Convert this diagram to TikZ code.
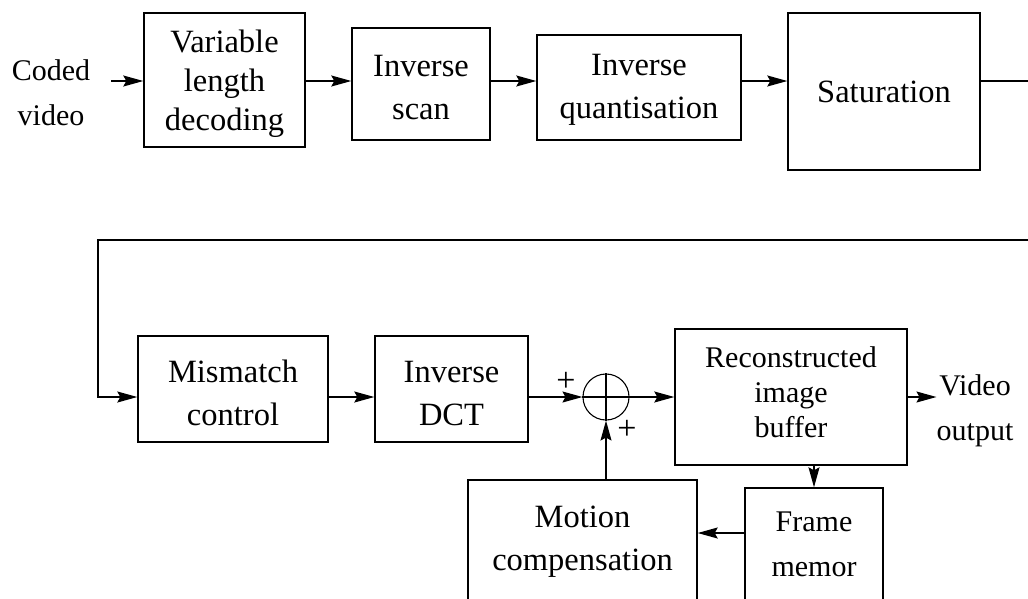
\documentclass[tikz,border=0pt]{standalone}
\usepackage{fontspec}
\setmainfont{Liberation Serif}
\usetikzlibrary{arrows.meta}
\newcommand\toprule[1]{\rule{0pt}{#1}}
\newcommand\botrule[1]{\rule[-#1]{0pt}{#1}}
\begin{document}
\begin{tikzpicture}[x=1pt,y=-1pt,
  blk/.style={draw, line width=1.4pt, inner sep=0pt, align=center},
  arr/.style={line width=1.4pt, -{Stealth[length=20pt,width=11pt,inset=3pt]}},
  ln/.style={line width=1.4pt},
  lbl/.style={inner sep=0pt, align=center},
  bigf/.style={font={\fontsize{32.5}{43}\selectfont}},
  smf/.style={font={\fontsize{30}{45}\selectfont}}]
\useasboundingbox (0,0) rectangle (1028,598);
\clip (0,0) rectangle (1028,598);
\fill[white] (0,0) rectangle (1028,598);
\coordinate (toprow) at (0,81);
\coordinate (botrow) at (0,397);
\coordinate (fmrow) at (0,533);
\coordinate (re1) at (1034,81);
\coordinate (re2) at (1034,240);
\coordinate (lc) at (98,240);

% top row
\node[lbl, smf] (cv) at (51,93) {Coded\\video};
\node[blk, minimum width=161pt, minimum height=134pt, font={\fontsize{32.5}{39}\selectfont}] (vld) at (224.5,80) {\toprule{31pt}Variable\\length\\decoding};
\node[blk, bigf, minimum width=138pt, minimum height=112pt] (iscan) at (421,84) {\toprule{29pt}Inverse\\scan};
\node[blk, bigf, minimum width=204pt, minimum height=105pt] (iq) at (639,87.5) {\toprule{26pt}Inverse\\quantisation};
\node[blk, bigf, minimum width=192pt, minimum height=157pt] (sat) at (884,91.5) {Saturation};

% bottom row
\node[blk, bigf, minimum width=190pt, minimum height=106pt] (mm) at (233,389) {\toprule{30pt}Mismatch\\control};
\node[blk, bigf, minimum width=153pt, minimum height=106pt] (idct) at (451.5,389) {\toprule{30pt}Inverse\\DCT};
\node[draw, circle, line width=1.1pt, minimum size=46pt, inner sep=0pt] (sum) at (606,397) {};
\node[blk, minimum width=232pt, minimum height=136pt, font={\fontsize{30}{35}\selectfont}] (rib) at (791,397) {Reconstructed\\image\\buffer\botrule{10pt}};
\node[lbl, smf] (vo) at (975,411) {Video\\output};
\node[blk, bigf, minimum width=229pt, minimum height=124pt] (mc) at (582.5,542) {Motion\\compensation};
\node[blk, smf, minimum width=138pt, minimum height=120pt] (fm) at (814,548) {Frame\\memor\botrule{8pt}};
\node[lbl, font={\fontsize{34}{40}\selectfont}] (p1) at (566,382) {+};
\node[lbl, font={\fontsize{34}{40}\selectfont}] (p2) at (627,430) {+};

% circle cross
\draw[line width=1.1pt] (sum.north) -- (sum.south) (sum.west) -- (sum.east);

% connectors top
\draw[arr] ([xshift=21pt]cv.east |- toprow) -- (vld.west |- toprow);
\draw[arr] (vld.east |- toprow) -- (iscan.west |- toprow);
\draw[arr] (iscan.east |- toprow) -- (iq.west |- toprow);
\draw[arr] (iq.east |- toprow) -- (sat.west |- toprow);
\draw[ln] (sat.east |- toprow) -- (re1);
\draw[arr] (re2) -- (lc) |- (mm.west |- botrow);

% connectors bottom
\draw[arr] (mm.east |- botrow) -- (idct.west |- botrow);
\draw[arr] (idct.east |- botrow) -- (sum.west);
\draw[arr] (sum.east) -- (rib.west |- botrow);
\draw[arr] (rib.east |- botrow) -- (vo.west |- botrow);
\draw[arr] (sum.south |- mc.north) -- (sum.south);
\draw[arr] (fm.north |- rib.south) -- (fm.north);
\draw[arr] (fm.west |- fmrow) -- (mc.east |- fmrow);
\end{tikzpicture}
\end{document}
